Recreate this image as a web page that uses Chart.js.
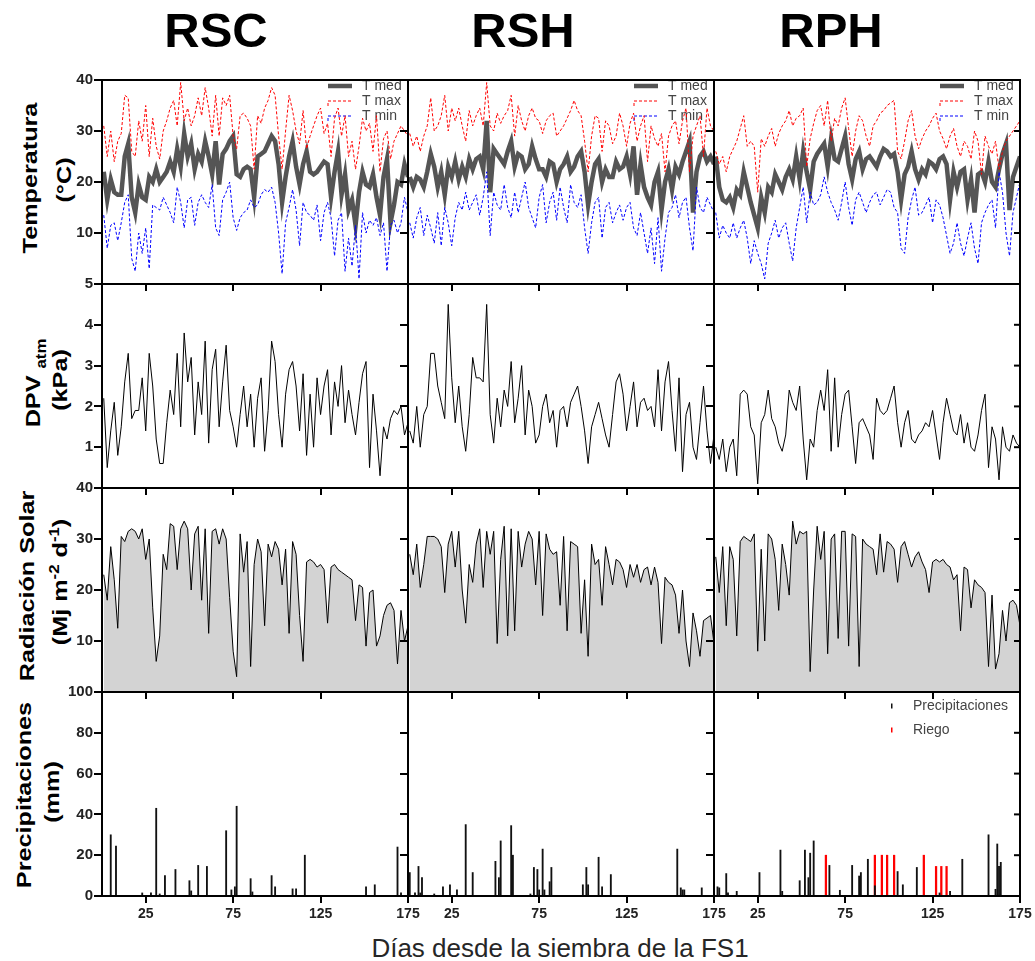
<!DOCTYPE html>
<html>
<head>
<meta charset="utf-8">
<script src="https://cdn.jsdelivr.net/npm/chart.js@4/dist/chart.umd.min.js"></script>
<style>
  body { margin: 0; background: #fff; }
  #wrap { position: relative; width: 1035px; height: 961px; overflow: hidden;
          font-family: 'Liberation Sans', Arial, sans-serif; color: #000; }
  #wrap canvas { position: absolute; }
  .ttl { position: absolute; top: 6px; font-size: 49px; font-weight: bold; line-height: 1;
         transform: translateX(-50%); white-space: nowrap; }
  .ylab { position: absolute; font-size: 21px; font-weight: bold; line-height: 1; white-space: nowrap;
          transform: translate(-50%, -50%) rotate(-90deg) scaleX(1.2); }
  .ylab sub, .ylab sup { font-size: 14px; }
  .xlab { position: absolute; left: 560px; top: 935px; font-size: 26px; line-height: 1;
          color: #262626; transform: translateX(-50%); white-space: nowrap; }
</style>
</head>
<body>
<div id="wrap">
  <div class="ttl" style="left:216px">RSC</div>
  <div class="ttl" style="left:523px">RSH</div>
  <div class="ttl" style="left:831px">RPH</div>

  <div class="ylab" style="left:29px;top:178px">Temperatura</div>
  <div class="ylab" style="left:63px;top:180px">(°C)</div>
  <div class="ylab" style="left:35px;top:383px">DPV <sub>atm</sub></div>
  <div class="ylab" style="left:59px;top:380px">(kPa)</div>
  <div class="ylab" style="left:26px;top:586px">Radiación Solar</div>
  <div class="ylab" style="left:58px;top:582px">(Mj m<sup>-2</sup> d<sup>-1</sup>)</div>
  <div class="ylab" style="left:23px;top:795px">Precipitaciones</div>
  <div class="ylab" style="left:51px;top:792px">(mm)</div>

  <div class="xlab">Días desde la siembra de la FS1</div>
</div>
<script>
// días (cada 2 días)
const days = [1,3,5,7,9,11,13,15,17,19, 21,23,25,27,29,31,33,35,37,39,
  41,43,45,47,49,51,53,55,57,59, 61,63,65,67,69,71,73,75,77,79,
  81,83,85,87,89,91,93,95,97,99, 101,103,105,107,109,111,113,115,117,119,
  121,123,125,127,129,131,133,135,137,139, 141,143,145,147,149,151,153,155,157,159,
  161,163,165,167,169,171,173,175];
const xTickValues = [25, 75, 125, 175];
const tempTicks = [0, 10, 20, 30, 40];
const dpvTicks = [0, 1, 2, 3, 4, 5];
const radTicks = [0, 10, 20, 30, 40];
const precTicks = [0, 20, 40, 60, 80, 100];

// RSC
const tMedRSC = [22,16.5,20.5,18,17.5,17.5,25,27.5,17,14, 19.5,17,16.5,21,20,22.5,20,21,22,24,
  22,26.5,23,29.5,25,27.5,22.5,25.5,24,28, 25,21.5,28,19.5,25.5,26.5,28,29,21.5,21,
  22.5,23,22.5,17,25,25.5,26,27.5,29,28, 23.5,16,21,25,28,23,19.5,23.5,26,22,
  21.5,22,23,24,23.5,17,22,26,17.5,21.5, 14.5,16.5,11.5,18,22,19.5,19,21.5,17,13.5,
  21,24.5,12,15.5,20,19.5,23.5,21];
const tMaxRSC = [31,25,30,24,28,29.5,37,36.5,26,25, 32,28,35,25,32.5,27,24.5,30,32,34.5,
  36,31,39.5,32,34.5,31,33,36.5,33,38.5, 34.5,29,37,29,36.5,35,37,29,26.5,33,
  33.5,32.5,31,22.5,33,31.5,34.5,36,38.5,37, 29,22.5,30,37,34,30,27.5,34,26.5,29,
  31,33,34.5,29.5,31.5,25,32.5,34.5,29,33, 25,28,22.5,27,32.5,30,31.5,26,33,22,
  28.5,30,24.5,28,29.5,31,30,29];
const tMinRSC = [13.5,7,11.5,12,8.5,12,16,17.5,5,2.5, 10,6,11,3,15.5,15,14.5,17,15.5,14,
  12,19,16,11,16.5,17,11.5,16,17.5,16, 15,19.5,11,9.5,16.5,18,20,13,10.5,13,
  14,14.5,16.5,15,15.5,17.5,18.5,18,19,16, 10,2,12,15,18.5,14.5,7.5,16,14,13.5,
  12.5,15.5,8.5,14,16,13,5.5,12.5,14,2.5, 9,3.5,11.5,1,14,10,12.5,11.5,13,9.5,
  12,2.5,11.5,12.5,10,12,17,14];
const dpvRSC = [2.2,0.5,1.4,2.1,0.8,1.5,2.6,3.3,1.7,1.9, 1.9,2.7,1.4,3.3,2.5,1.2,0.6,0.6,1.6,2.4,
  1.8,3.3,1.5,3.8,2.6,3.2,1.3,2.6,1.8,3.6, 1.1,2.9,3.4,1.5,2.6,3.5,1.9,1.5,1.0,1.8,
  2.5,1.5,2.3,1.0,2.2,2.7,0.9,1.9,3.6,3.1, 1.8,1.0,2.3,2.9,3.1,2.5,1.4,2.8,0.8,2.3,
  1.0,2.7,1.8,2.5,2.9,1.3,2.6,2.0,3.0,1.6, 2.4,1.8,1.3,2.1,2.8,3.1,0.5,2.3,1.4,0.3,
  1.5,1.2,1.7,1.9,1.8,2.0,1.3,1.6];
const radRSC = [23,18,28.5,22,12.5,30.5,29.5,31.5,32,31.5, 30,32,26,30,16.5,6,11,27,24,33,
  32.5,24,32,33.5,32,20,31,32.5,18,32, 11.5,31.5,32,29,32,30,18.5,8,3,31,
  23.5,29.5,5,25,30,27.5,13,29,26.5,29.5, 28,21,28,11.5,29.5,27,15,6,25.5,26,
  25.5,24.5,25,24,13.5,24.5,25,24,23.5,23, 22.5,22,14,21,20.5,9,19.5,20,9,11,
  15,17,17.5,16,5.5,16,10,13];
const precDaysRSC = [5,8,23,28,31,33,36,42,50,51,55,60,71,74,76,77,85,86,97,99,109,111,116,151,156,169,171];
const precRSC = [30,24.5,1.5,1.5,43,1,10,13,7.5,2.5,15,14.5,32,3,4.5,44,8.5,2,10,4.5,3.5,3.5,20,4.5,5.5,24,1.5];

// RSH
const tMedRSH = [21,19,21,20.5,19,22,25.5,23,19,22, 17.5,23,21,24,20.5,23,21,24.5,22.5,24.5,
  25,22.5,32,18,26.5,25.5,24.5,23.5,26,28, 23,25.5,25,22.5,23.5,27,24.5,22.5,22.5,21,
  24,23.5,20,22.5,23.5,25,22,23,25,26, 22,15.5,20,23.5,24.5,20,22.5,21,21,24,
  22.5,23,25,21.5,27,17.5,23.5,19,17,15.5, 20,22,14.5,20,22.5,18.5,23,21.5,24,26,
  28,14,22,25,26,24,25,23.5];
const tMaxRSH = [29.5,27,29,26,29,31,36.5,30,31,33, 37,30,34.5,32,34.5,31,28,34,31,33,
  34.5,31,39.5,31,30,33.5,31.5,33,34,37, 29,35,32,30,33,34.5,32.5,32,29.5,32,
  33,33.5,29,30,31,32.5,34,36,34,33, 28,22,29,33,32.5,26,32,31,27.5,29,
  33.5,31,27,31.5,33.5,28,31,33,24,31, 28.5,27,29.5,22,29,31,32,27.5,32,34.5,
  22,29,31,33,25,34.5,31,30];
const tMinRSH = [12,9,13,15,9.5,13.5,11,8,14,7.5, 15,12,7.5,13,16,14.5,18,14.5,16,17.5,
  13.5,17,22,9.5,18,15.5,14.5,19.5,15,13, 18,14,17,20,15,13,11,17,19.5,12,
  16,18,12.5,19,15,12,19.5,16,15,17.5, 11,6,12,16,17,9,15,16,12,14,
  15.5,12.5,15,16,11,9.5,14,10,6,11, 4,13,2.5,9,14,15,17.5,13,16,17,
  11,6.5,19,15,14,17,15.5,14];
const dpvRSH = [1.4,1.1,2.0,1.0,1.8,2.0,3.3,3.3,2.5,2.1, 1.7,4.5,2.7,1.6,2.5,1.5,0.9,1.8,3.2,2.7,
  2.7,2.6,4.5,1.8,1.1,2.2,1.5,2.4,2.0,3.1, 1.6,2.2,3.0,1.3,2.4,2.0,1.1,1.3,2.0,2.3,
  1.6,1.9,1.0,1.9,2.0,1.5,2.1,2.3,2.5,2.0, 1.4,0.6,1.5,1.8,2.1,1.7,1.3,1.0,1.8,2.6,
  2.8,2.3,1.4,2.0,2.6,1.5,2.1,2.2,1.9,2.0, 1.5,2.9,1.4,2.6,3.1,1.9,0.9,2.7,0.4,1.8,
  2.1,1.0,0.7,1.6,2.5,1.4,0.6,1.3];
const radRSH = [27,23,29,20.5,25,30.5,30.5,30.5,30,28.5, 19.5,29,31.5,24.5,31.5,20,13.5,25,21.5,29,
  32,20.5,31.5,27,31.5,9.5,26,32.5,11,32, 12,31.5,24.5,29,31.5,30,21,31.5,15,31,
  28,27,27.5,17,30.5,12,29.5,29,28.5,11.5, 22,7,29,25,26,17,28.5,25,21,26,
  25.5,24,20.5,25,22.5,25,21.5,24,24.5,21, 24.5,21.5,9.5,22.5,21.5,21,19,11.5,20,10,
  5,15.5,12,7,14,14.5,15,9.5];
const precDaysRSH = [1,4,6,7,8,15,20,24,28,33,37,50,52,53,59,60,70,72,74,75,77,78,81,82,100,102,103,109,111,116,154,156,157,158,168];
const precRSH = [11.5,1.5,14.5,1.5,9,1,4.5,5.5,3,35,11.5,17,9,27,34.5,20,1,14,13,3,23,3,7,14,5.5,14,5.5,19,4.5,10.5,23,4,3,3,4];

// RPH
const tMedRPH = [25,19,16.5,16,17,15,18.5,17.5,22,19, 16,13.5,11,17,14,19,18,21.5,20,18.5,
  21,22.5,20.5,25,20.5,26,22,18.5,24,25.5, 26.5,27.5,23,28.5,24.5,24,26.5,29,23.5,20.5,
  24.5,26,22.5,24.5,25,24,23,25,26.5,26, 25,25.5,22,16.5,21.5,23,26,22.5,20.5,22.5,
  21.5,24,23.5,22.5,24.5,25,23.5,16.5,22,19, 22,22.5,16.5,20.5,14,21.5,22,20,24,20,
  19,22.5,25.5,27.5,14.5,21,23,25];
const tMaxRPH = [26,23.5,25,22,25,26.5,28,30.5,33,27, 28,27,18,28.5,27,29,30.5,27,29.5,31,
  32,34,31,32.5,33,34.5,23,28.5,31.5,34, 35,31,36,28,32.5,31,34.5,36.5,30.5,25,
  30,33,32,29,27,31,32,33.5,34,35, 35.5,36,26,24.5,28,32,34,29,26.5,28.5,
  30,31,32.5,33.5,30,28.5,26.5,29,30.5,27, 25,28,27,24.5,30,28,21.5,29,27,25.5,
  28,22.5,26,28,29,30,31,32];
const tMinRPH = [14,9,11.5,10,9,12,9,11,12.5,9, 4,8.5,6,4,1,8,10,12.5,9,11,
  12,8,4.5,11,15,19,12,18,15.5,16, 17.5,21,18,16,14.5,12.5,16,20,15,11.5,
  16.5,18,16,14,16,17.5,18,15.5,17,18.5, 18,15,14,7,6,13,16.5,19,13.5,14,
  15.5,17,12,16.5,15.5,13,9.5,6,8,12, 8,5.5,9,12,7,4,12,14,15.5,16.5,
  11,22,18,10,5.5,14,17,20];
const dpvRPH = [1.0,0.7,1.2,0.4,1.0,1.2,0.3,2.3,2.4,2.3, 1.5,1.3,0.1,1.6,1.8,2.4,1.7,1.5,1.1,0.9,
  1.3,2.4,2.1,1.9,2.5,1.2,0.2,1.2,1.0,1.9, 2.4,1.9,2.9,0.9,2.7,1.0,1.8,2.3,2.4,1.5,
  0.6,1.6,1.7,1.5,1.3,0.7,2.2,1.9,1.8,1.9, 2.2,2.5,1.6,1.0,1.6,1.9,1.2,1.1,1.3,1.4,
  1.6,1.5,1.9,1.3,0.7,1.6,2.2,1.8,1.4,1.3, 1.8,1.1,1.6,1.0,0.9,1.3,1.9,2.3,0.5,1.5,
  1.2,0.2,1.5,1.0,0.9,1.3,1.1,1.0];
const radRPH = [26.5,19.5,28.5,13,28.5,26,11,29.5,30.5,30, 29.5,31,8,28,10,31,30,26,16,29,
  25,19,33.5,29,31.5,31,31.5,4,20,32.5, 26,31.5,7.5,30,31,10.5,31.5,31.5,9,31,
  30.5,5,30,29,28.5,28,23,31,23.5,29.5, 29,28,21.5,28.5,29.5,27,24.5,26.5,27.5,25.5,
  24,19.5,25.5,26,25.5,26,25,24.5,22,23, 12,24.5,24,16.5,22,21,20.5,19.5,5,19,
  4.5,7.5,16,10,17.5,18,17,13];
const precDaysRPH = [2,3,7,8,13,26,38,39,49,52,54,55,57,66,72,79,83,84,88,92,105,108,116,129,135,142,157,161,162,163,164];
const precRPH = [4.5,4,11,1.5,2.3,11.5,22.5,2.3,7.5,22.5,9,21,27,15,2.8,15,9.8,11.5,18,5,12,5.5,14,1.5,2.3,18,30,3.3,25.5,14.5,16.5];
const riegoDaysRPH = [64,92,96,99,103,120,127,130,133];
const riegoRPH = [20,20,20,20,20,20,14.5,14.5,14.5];

// layout of the 3 x 4 panels
const colLeft = [102, 408, 714];
const rowTop = [80, 284, 488, 692];
const PW = 306, PH = 204;
const YW = 60, PT = 12, PR = 18, XH = 34;

const pts = (xs, ys) => xs.map((x, i) => ({ x: x, y: ys[i] }));

Chart.defaults.font.family = "'Liberation Sans', Arial, sans-serif";
Chart.defaults.color = '#222';

// marco negro alrededor de cada panel
const frame = {
  id: 'frame',
  afterDraw(chart, args, opts) {
    const { ctx, chartArea: a } = chart;
    ctx.save();
    ctx.strokeStyle = '#000';
    ctx.lineWidth = 2;
    ctx.strokeRect(a.left, a.top, a.right - a.left, a.bottom - a.top);
    if (opts.rightTicks) {
      const ys = chart.scales.y;
      ys.ticks.forEach(t => {
        const py = ys.getPixelForValue(t.value);
        ctx.beginPath();
        ctx.moveTo(a.right, py);
        ctx.lineTo(a.right - 6, py);
        ctx.stroke();
      });
    }
    ctx.restore();
  }
};

// leyenda pequeña dentro del panel
const panelLegend = {
  id: 'panelLegend',
  beforeDatasetsDraw(chart, args, opts) {
    if (!opts.show) return;
    const { ctx, chartArea } = chart;
    ctx.save();
    ctx.font = "14px 'Liberation Sans', Arial, sans-serif";
    ctx.textBaseline = 'middle';
    chart.data.datasets.forEach((ds, i) => {
      const x = chartArea.left + opts.left;
      const y = chartArea.top + opts.top + i * opts.gap;
      if (opts.marker === 'line') {
        ctx.strokeStyle = ds.borderColor;
        ctx.lineWidth = ds.borderWidth;
        ctx.setLineDash(ds.borderDash || []);
        ctx.beginPath();
        if (ds.borderDash) { ctx.moveTo(x, y + 5); ctx.lineTo(x, y); }
        else ctx.moveTo(x, y);
        ctx.lineTo(x + 24, y);
        ctx.stroke();
        ctx.setLineDash([]);
      } else {
        ctx.fillStyle = ds.backgroundColor;
        ctx.fillRect(x, y - 2.5, 1.5, 5);
      }
      ctx.fillStyle = '#444';
      ctx.fillText(ds.label, x + opts.textDx, y);
    });
    ctx.restore();
  }
};

const wrap = document.getElementById('wrap');

function makePanel(row, col, datasets, yMax, yTicks, legend, rightTicks) {
  const canvas = document.createElement('canvas');
  canvas.width = YW + PW + PR;
  canvas.height = PT + PH + XH;
  canvas.style.left = (colLeft[col] - YW) + 'px';
  canvas.style.top = (rowTop[row] - PT) + 'px';
  canvas.style.zIndex = (4 - row) * 10 + col;
  wrap.appendChild(canvas);
  return new Chart(canvas, {
    type: row === 3 ? 'bar' : 'line',
    data: { datasets: datasets },
    options: {
      responsive: false,
      animation: false,
      devicePixelRatio: 1,
      events: [],
      layout: { padding: { top: PT, right: PR, left: 0, bottom: 0 } },
      elements: { point: { radius: 0 }, line: { tension: 0 } },
      scales: {
        x: {
          type: 'linear', min: 0, max: 175, offset: false,
          afterBuildTicks: s => { s.ticks = xTickValues.map(v => ({ value: v })); },
          afterFit: s => { s.height = XH; },
          border: { display: false },
          grid: { offset: false, drawOnChartArea: false, drawTicks: true, tickLength: 7, color: '#000', lineWidth: 2 },
          ticks: { autoSkip: false, maxRotation: 0, padding: 3, color: '#222',
                   font: { size: 14, weight: 'bold' },
                   callback: v => (row === 3 ? String(v) : '') }
        },
        y: {
          min: 0, max: yMax,
          afterBuildTicks: s => { s.ticks = yTicks.map(v => ({ value: v })); },
          afterFit: s => { s.width = YW; },
          border: { display: false },
          grid: { drawOnChartArea: false, drawTicks: true, tickLength: 8, color: '#000', lineWidth: 2 },
          ticks: { padding: 1, color: '#222', font: { size: 15, weight: 'bold' },
                   callback: v => (col === 0 && (row === 3 || v !== 0) ? String(v) : '') }
        }
      },
      plugins: {
        legend: { display: false },
        tooltip: { enabled: false },
        frame: { rightTicks: !!rightTicks },
        panelLegend: legend || { show: false }
      }
    },
    plugins: [frame, panelLegend]
  });
}

const temps = [[tMedRSC, tMaxRSC, tMinRSC], [tMedRSH, tMaxRSH, tMinRSH], [tMedRPH, tMaxRPH, tMinRPH]];
const dpvs = [dpvRSC, dpvRSH, dpvRPH];
const rads = [radRSC, radRSH, radRPH];
const precs = [[precDaysRSC, precRSC], [precDaysRSH, precRSH], [precDaysRPH, precRPH]];

for (let c = 0; c < 3; c++) {
  const last = c === 2;
  makePanel(0, c, [
    { label: 'T med', data: pts(days, temps[c][0]), borderColor: '#555', borderWidth: 4.5, order: 3 },
    { label: 'T max', data: pts(days, temps[c][1]), borderColor: '#ff0000', borderWidth: 1, borderDash: [3, 2], order: 2 },
    { label: 'T min', data: pts(days, temps[c][2]), borderColor: '#0000ff', borderWidth: 1, borderDash: [3, 2], order: 1 }
  ], 40, tempTicks, { show: true, marker: 'line', left: 226, top: 6, gap: 15, textDx: 34 }, last);

  makePanel(1, c, [
    { label: 'DPV', data: pts(days, dpvs[c]), borderColor: '#000', borderWidth: 1 }
  ], 5, dpvTicks, null, last);

  makePanel(2, c, [
    { label: 'Radiación', data: pts(days, rads[c]), borderColor: '#000', borderWidth: 1,
      fill: 'origin', backgroundColor: '#d3d3d3' }
  ], 40, radTicks, null, last);

  const bars = [
    { label: 'Precipitaciones', data: pts(precs[c][0], precs[c][1]), backgroundColor: '#111',
      barThickness: 1.2, grouped: false }
  ];
  if (last) {
    bars.push({ label: 'Riego', data: pts(riegoDaysRPH, riegoRPH), backgroundColor: '#ff0000',
      barThickness: 1.6, grouped: false });
  }
  makePanel(3, c, bars, 100, precTicks,
    last ? { show: true, marker: 'tick', left: 177, top: 14, gap: 24, textDx: 22 } : null, last);
}
</script>
</body>
</html>
